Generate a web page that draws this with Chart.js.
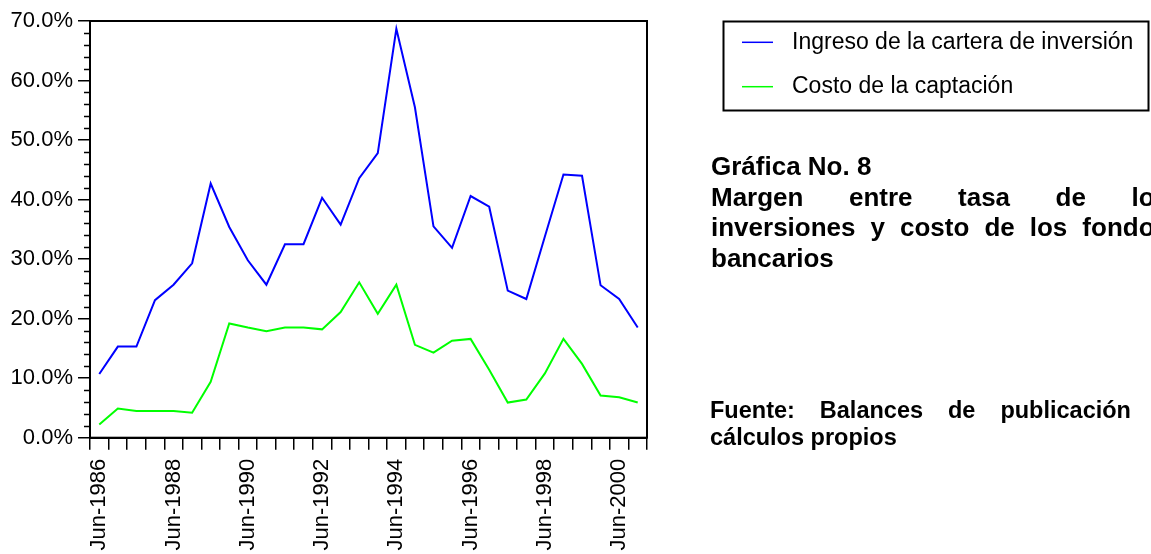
<!DOCTYPE html>
<html>
<head>
<meta charset="utf-8">
<script src="https://cdn.jsdelivr.net/npm/chart.js@4.4.0/dist/chart.umd.min.js"></script>
<style>
  body { margin: 0; background: #fff; overflow: hidden; }
  #wrap { position: relative; width: 1151px; height: 554px; }
  .note { position: absolute; font-family: "Liberation Sans", Arial, sans-serif; font-weight: bold; color: #000; white-space: nowrap; }
  .note span { display: block; }
  .just { text-align: justify; text-align-last: justify; }
</style>
</head>
<body>
<div id="wrap">
  <canvas id="Chart"></canvas>
  <div class="note" id="title" style="left:711px; top:151px; width:458px; font-size:26px; line-height:30.5px;">
    <span>Gráfica No. 8</span>
    <span class="just">Margen entre tasa de los</span>
    <span class="just">inversiones y costo de los fondos</span>
    <span>bancarios</span>
  </div>
  <div class="note" id="source" style="left:710px; top:397px; width:459px; font-size:23.5px; line-height:26.7px;">
    <span class="just">Fuente: Balances de publicación y</span>
    <span>cálculos propios</span>
  </div>
</div>
<script>
// Chart x axis (semestres)
var periods = ["Jun-1986","Dic-1986","Jun-1987","Dic-1987","Jun-1988","Dic-1988","Jun-1989","Dic-1989",
  "Jun-1990","Dic-1990","Jun-1991","Dic-1991","Jun-1992","Dic-1992","Jun-1993","Dic-1993",
  "Jun-1994","Dic-1994","Jun-1995","Dic-1995","Jun-1996","Dic-1996","Jun-1997","Dic-1997",
  "Jun-1998","Dic-1998","Jun-1999","Dic-1999","Jun-2000","Dic-2000"];

// Chart y axis (%)
var ingresoCartera = [10.7,15.3,15.3,23.1,25.7,29.3,42.7,35.4,29.8,25.7,32.5,32.5,40.3,35.8,43.6,47.8,
  68.7,55.5,35.5,31.9,40.6,38.8,24.7,23.3,33.8,44.2,44.0,25.6,23.3,18.5];
var costoCaptacion = [2.2,4.9,4.5,4.5,4.5,4.2,9.4,19.2,18.5,17.9,18.5,18.5,18.2,21.1,26.1,20.8,
  25.7,15.6,14.3,16.3,16.6,11.4,5.9,6.4,10.8,16.6,12.4,7.1,6.8,5.9];

// Y axis ticks
var yMin = 0, yMax = 70, yStep = 10, yMinorStep = 2;
// Only every 4th period gets a label
var labelEvery = 4;

var FONT = '"Liberation Sans", Arial, sans-serif';

// Frame, minor ticks and boxed legend
var extras = {
  id: 'extras',
  afterDraw: function(chart) {
    var ctx = chart.ctx, a = chart.chartArea;
    var y = chart.scales.y;
    ctx.save();
    ctx.strokeStyle = '#000';
    // minor ticks on y
    ctx.lineWidth = 1.5;
    ctx.beginPath();
    for (var v = yMin; v <= yMax; v += yMinorStep) {
      if (v % yStep === 0) continue;
      var py = Math.round(y.getPixelForValue(v)) + 0.5;
      ctx.moveTo(a.left - 6, py);
      ctx.lineTo(a.left, py);
    }
    ctx.stroke();
    // frame
    ctx.lineWidth = 2;
    ctx.strokeRect(a.left, a.top, a.right - a.left, a.bottom - a.top);
    // legend box
    ctx.strokeRect(723.5, 21.5, 425, 89);
    var rows = [42.3, 86.7];
    ctx.font = '23px ' + FONT;
    ctx.textBaseline = 'middle';
    ctx.fillStyle = '#000';
    chart.data.datasets.forEach(function(ds, i) {
      ctx.strokeStyle = ds.borderColor;
      ctx.lineWidth = 1.5;
      ctx.beginPath();
      ctx.moveTo(742, rows[i]);
      ctx.lineTo(773, rows[i]);
      ctx.stroke();
      ctx.fillText(ds.label, 792, rows[i]);
    });
    ctx.restore();
  }
};

var chart = document.getElementById("Chart");
var myChart = new Chart(chart, {
  type: 'line',
  data: {
    labels: periods,
    datasets: [
      {
        label: "Ingreso de la cartera de inversión",
        borderColor: "#0000ff",
        data: ingresoCartera
      }, {
        label: "Costo de la captación",
        borderColor: "#00ff00",
        data: costoCaptacion
      }
    ]
  },
  options: {
    responsive: true,
    maintainAspectRatio: false,
    animation: false,
    layout: { padding: { top: 21, right: 504, left: 0, bottom: 0 } },
    elements: {
      line: { borderWidth: 2, tension: 0 },
      point: { radius: 0 }
    },
    plugins: {
      legend: { display: false },
      tooltip: { enabled: false }
    },
    scales: {
      x: {
        offset: true,
        grid: { offset: true, drawOnChartArea: false, tickLength: 12, color: '#000', lineWidth: 1.5 },
        border: { color: '#000', width: 2 },
        ticks: {
          autoSkip: false, maxRotation: 90, minRotation: 90, padding: 9,
          color: '#000', font: { family: FONT, size: 22 },
          callback: function(v, i) { return i % labelEvery === 0 ? periods[i] : ''; }
        },
        afterFit: function(s) { s.height = 116.3; }
      },
      y: {
        min: yMin, max: yMax,
        grid: { drawOnChartArea: false, tickLength: 12, color: '#000', lineWidth: 1.5 },
        border: { color: '#000', width: 2 },
        ticks: {
          stepSize: yStep, padding: 5, color: '#000', font: { family: FONT, size: 22 },
          callback: function(v) { return v.toFixed(1) + '%'; }
        },
        afterFit: function(s) { s.width = 90; }
      }
    }
  },
  plugins: [extras]
});
</script>
</body>
</html>
